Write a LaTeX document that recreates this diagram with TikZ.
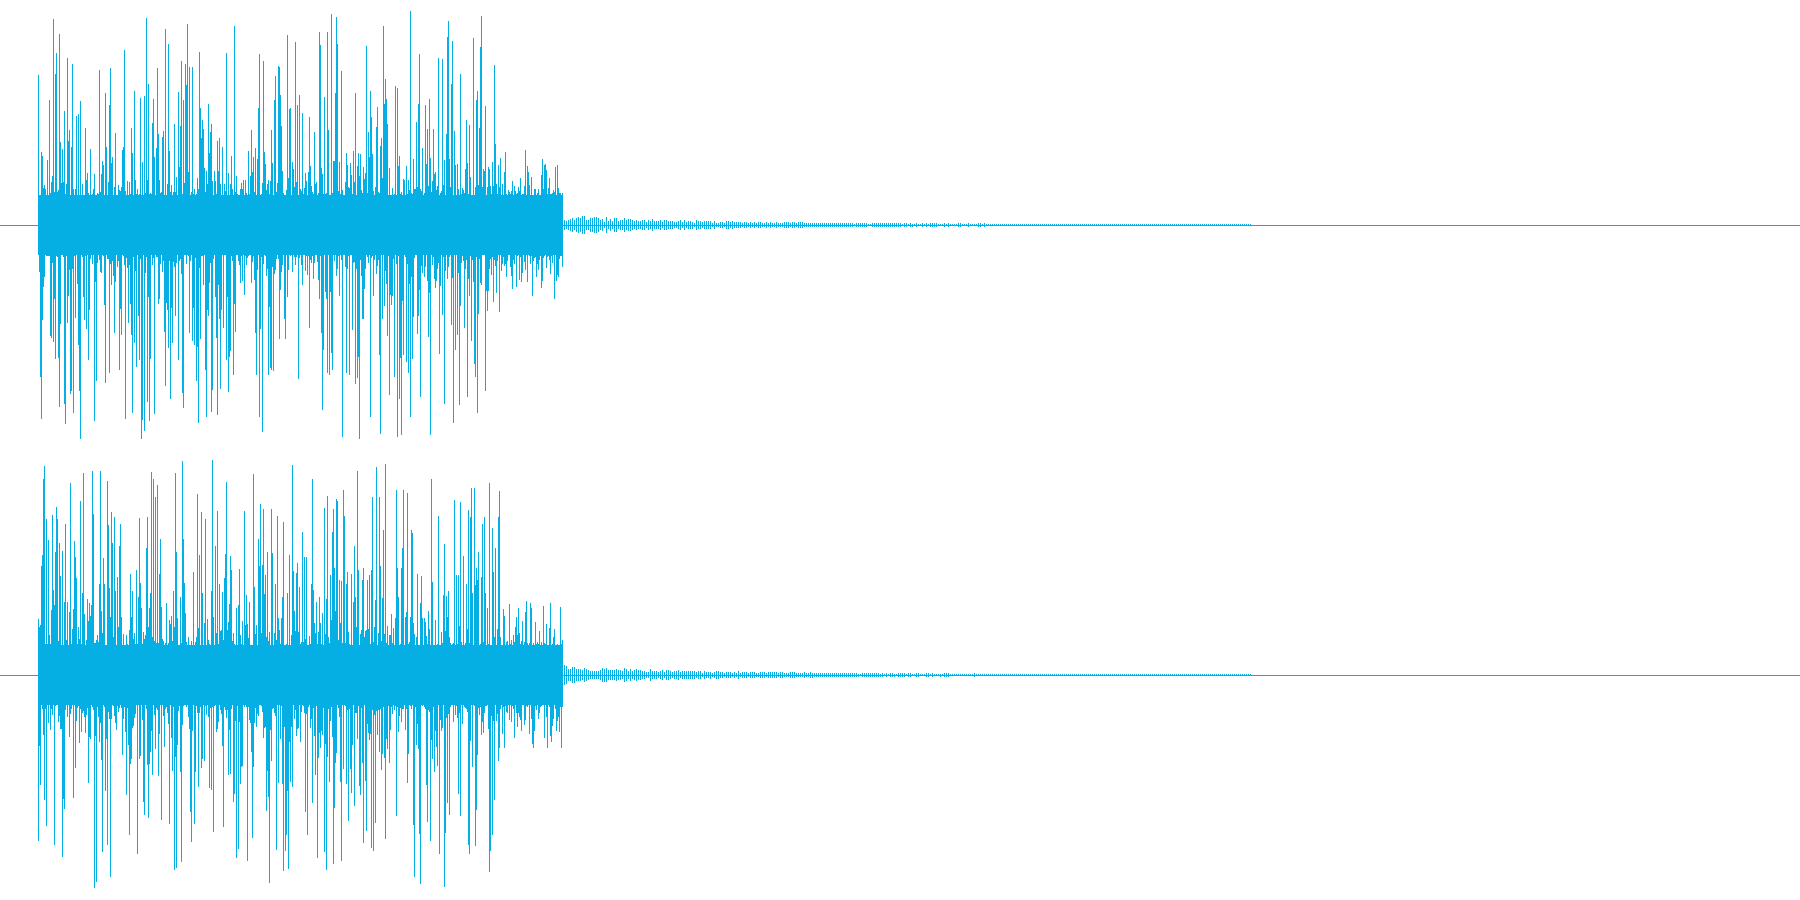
\documentclass[tikz,border=0pt]{standalone}
\begin{document}
\begin{tikzpicture}[x=0.5pt,y=-0.5pt]
\definecolor{wave}{HTML}{05AEE3}
\tikzset{wv/.style={draw=wave,line width=0.5pt}}
\useasboundingbox (0,0) rectangle (1800,900);
\pgfmathsetseed{7}
\foreach \c in {225,675}{
  \draw[wv] (0,\c) -- (1800,\c);
  \fill[wave] (38,\c-28) rectangle (562,\c+28);
  \foreach \x in {38,39,...,562}{
    \pgfmathsetmacro{\mx}{\x<500 ? 215 : 75}
    \pgfmathsetmacro{\au}{30+(\mx-30)*rnd^3.2}
    \pgfmathsetmacro{\ad}{30+(\mx-30)*rnd^3.2}
    \draw[wv,line width=0.4pt] (\x,\c-\au) -- (\x,\c+\ad);
  }
  \foreach \x in {562,564,...,1250}{
    \pgfmathsetmacro{\a}{1+6*exp(-(\x-562)/150)*(0.5+rnd)}
    \draw[wv] (\x,\c-\a) -- (\x,\c+\a);
  }
}
\end{tikzpicture}
\end{document}
